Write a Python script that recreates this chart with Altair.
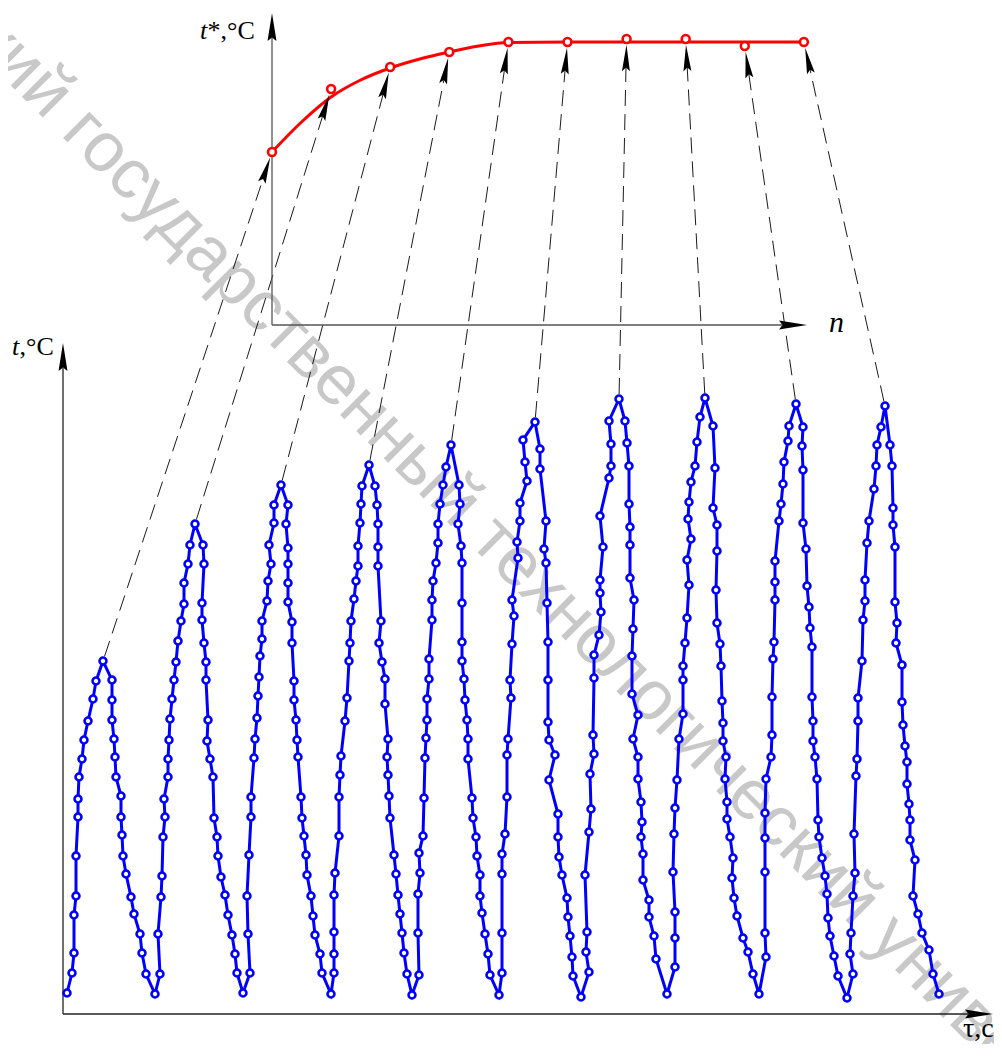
import altair as alt
import pandas as pd

# ---------------- data (chart units: tau in s, t in degC) ----------------
tau = [
    0.4, 0.9, 1.1, 1.1, 1.3, 1.3, 1.5, 1.5, 1.6, 1.9, 2.1, 2.5, 3.0, 3.3, 4.0,
    4.9, 4.9, 4.9, 5.1, 5.2, 5.3, 5.8, 5.8, 5.9, 6.0, 6.3, 6.8, 7.1, 7.7, 7.9, 8.3, 9.2,
    9.7, 9.5, 9.8, 9.9, 10.0, 10.2, 10.1, 10.5, 10.5, 10.6, 10.7, 10.9, 11.1, 11.3, 11.5, 11.8, 12.1, 12.1, 12.5, 12.7, 13.2,
    14.0, 14.1, 13.9, 13.9, 14.1, 14.3, 14.3, 14.5, 14.4, 14.7, 15.0, 15.1, 15.4, 15.5, 15.8, 16.2, 16.5, 16.9, 17.2, 17.4, 18.0,
    18.7, 18.5, 18.4, 18.6, 18.8, 18.8, 19.1, 19.2, 19.4, 19.5, 19.6, 19.7, 19.9, 19.9, 20.4, 20.5, 20.8, 20.6, 21.1, 21.1, 21.8,
    22.5, 22.3, 22.5, 22.5, 22.5, 22.5, 22.9, 22.9, 23.1, 23.1, 23.3, 23.4, 23.5, 23.8, 23.9, 24.1, 24.3, 24.4, 24.8, 25.0, 25.2, 25.7, 25.9, 26.8,
    27.1, 27.1, 27.1, 27.1, 27.2, 27.6, 27.6, 27.7, 27.8, 28.2, 28.4, 28.6, 28.7, 28.8, 29.1, 29.3, 29.5, 29.5, 29.7, 29.8, 29.9, 30.6,
    31.2, 31.4, 31.5, 31.5, 31.5, 31.8, 31.6, 31.9, 32.2, 32.2, 32.5, 32.4, 32.5, 32.6, 32.7, 33.1, 33.3, 33.5, 33.7, 33.9, 34.1, 34.4, 34.9,
    35.6, 35.5, 35.5, 35.7, 35.6, 36.0, 36.1, 36.2, 36.3, 36.4, 36.4, 36.6, 36.6, 36.9, 36.9, 37.0, 37.3, 37.5, 37.5, 37.7, 38.0, 38.3, 38.8,
    39.6, 39.7, 39.5, 39.8, 39.9, 39.9, 39.9, 39.9, 40.1, 40.2, 40.4, 40.5, 40.5, 40.9, 41.0, 41.3, 41.4, 41.7, 41.7, 41.9, 42.2, 42.5, 42.7, 43.6,
    43.9, 43.9, 43.9, 43.9, 44.2, 44.4, 44.4, 44.5, 44.8, 44.7, 44.9, 45.1, 44.9, 45.5, 45.4, 45.7, 45.7, 46.4, 46.2, 46.0, 47.2,
    47.7, 47.7, 48.3, 48.1, 48.3, 48.4, 48.5, 48.5, 48.5, 48.6, 49.2, 48.6, 49.5, 49.5, 49.6, 49.9, 50.4, 50.5, 50.7, 50.9, 51.0, 51.8,
    52.6, 52.3, 52.4, 52.2, 52.6, 52.8, 52.7, 53.1, 53.0, 53.1, 53.1, 53.6, 53.8, 53.7, 53.7, 54.0, 53.7, 54.6, 54.8, 54.8, 54.6, 55.6,
    56.2, 56.4, 56.6, 56.6, 56.7, 56.7, 56.7, 57.1, 57.0, 56.9, 56.9, 57.5, 57.0, 57.5, 57.5, 57.8, 57.9, 57.8, 58.0, 58.0, 58.6, 58.6, 59.1, 59.3, 60.4,
    61.2, 61.2, 61.2, 61.0, 61.1, 61.2, 61.4, 61.6, 62.0, 62.0, 62.0, 62.2, 62.4, 62.6, 62.4, 62.8, 62.5, 62.6, 62.8, 63.2, 63.4, 63.7, 64.2,
    65.0, 65.2, 65.0, 65.4, 65.4, 65.3, 65.4, 65.7, 65.8, 65.9, 66.0, 66.0, 66.3, 66.2, 66.4, 66.4, 66.7, 67.0, 66.9, 67.1, 67.4, 68.0, 68.5, 69.0, 69.6,
    70.3, 70.2, 70.2, 70.2, 70.2, 70.3, 70.8, 70.9, 70.9, 71.0, 71.1, 71.2, 71.2, 71.2, 71.6, 71.8, 72.0, 72.1, 72.5, 72.6, 73.3,
    74.0, 73.9, 74.0, 74.0, 74.3, 74.4, 74.6, 74.7, 74.9, 74.9, 75.0, 75.0, 75.2, 75.4, 75.5, 75.6, 75.9, 76.2, 76.4, 76.5, 76.7, 77.1, 77.5, 78.4,
    79.0, 78.7, 78.8, 79.0, 79.2, 79.1, 79.3, 79.4, 79.5, 79.5, 79.9, 80.0, 80.2, 80.2, 80.4, 80.6, 81.1, 81.3, 81.4, 81.8, 82.2,
    82.7, 82.9, 83.0, 83.0, 83.2, 83.2, 83.4, 83.3, 83.9, 83.9, 84.0, 84.2, 84.4, 84.4, 84.6, 84.7, 84.7, 85.2, 85.0, 85.5, 85.9, 86.6, 87.0, 87.6,
]
temp = [
    2.1, 4.1, 6.1, 9.9, 11.8, 15.8, 19.7, 21.5, 23.7, 25.5, 27.4, 29.3, 31.5, 33.3, 35.3,
    33.4, 31.4, 29.4, 27.5, 25.7, 23.7, 21.8, 19.7, 17.9, 15.8, 14.0, 11.7, 10.0, 8.0, 6.1, 4.0, 2.0,
    4.0, 8.0, 11.7, 13.8, 17.7, 19.7, 21.5, 23.7, 25.5, 27.4, 29.5, 31.5, 33.4, 35.2, 37.3, 39.3, 41.0, 43.1, 45.0, 46.9, 49.0,
    46.9, 45.0, 41.1, 39.4, 37.1, 35.2, 33.4, 29.4, 27.3, 25.5, 23.7, 19.6, 17.7, 15.8, 13.7, 11.9, 9.9, 7.9, 6.0, 4.1, 2.1,
    4.1, 8.0, 11.8, 15.9, 19.7, 21.7, 25.6, 27.5, 29.6, 31.8, 33.7, 35.8, 37.5, 39.3, 41.3, 43.3, 45.0, 46.9, 49.1, 50.9, 52.9,
    50.9, 49.0, 46.6, 45.0, 43.1, 41.2, 39.2, 37.1, 33.3, 31.4, 29.4, 27.4, 25.7, 21.7, 19.6, 17.8, 15.9, 13.9, 11.8, 9.8, 7.9, 6.0, 4.1, 2.0,
    4.1, 6.0, 8.2, 11.9, 14.1, 17.8, 21.7, 23.9, 25.8, 29.3, 31.6, 35.3, 37.1, 39.3, 41.5, 43.3, 44.8, 46.8, 49.1, 51.0, 52.8, 54.9,
    52.8, 50.9, 49.0, 46.7, 44.8, 39.3, 37.1, 35.2, 33.5, 31.0, 27.5, 25.7, 23.9, 21.8, 19.6, 15.9, 14.0, 11.9, 10.0, 8.1, 6.1, 4.0, 1.9,
    3.9, 8.1, 12.0, 14.1, 16.1, 17.8, 21.6, 25.6, 27.6, 29.4, 31.5, 33.5, 35.5, 39.4, 41.4, 43.3, 45.1, 47.1, 49.0, 51.0, 52.9, 54.7, 56.9,
    52.9, 51.0, 49.0, 46.8, 45.1, 41.1, 37.2, 35.3, 33.5, 31.4, 29.4, 27.5, 25.5, 21.6, 19.6, 17.7, 15.8, 13.9, 11.8, 10.1, 8.0, 6.0, 3.9, 1.9,
    4.1, 8.1, 14.0, 16.0, 18.0, 21.7, 25.9, 27.5, 31.6, 33.4, 37.0, 39.8, 41.4, 45.6, 47.2, 49.3, 51.1, 53.3, 55.2, 57.4, 59.2,
    56.5, 54.5, 49.3, 46.5, 45.1, 41.1, 37.2, 33.4, 29.2, 27.4, 25.9, 23.4, 20.0, 17.7, 15.7, 13.9, 11.6, 9.7, 7.8, 5.7, 3.8, 1.7,
    4.2, 6.2, 8.2, 13.9, 18.2, 20.5, 24.0, 26.0, 27.9, 33.6, 35.9, 37.9, 40.2, 42.1, 43.4, 46.7, 49.8, 53.6, 54.8, 57.0, 59.3, 61.5,
    59.3, 57.1, 54.8, 51.0, 48.7, 46.9, 43.6, 41.4, 38.5, 35.8, 32.0, 29.9, 27.5, 25.7, 23.5, 21.2, 19.2, 17.7, 16.0, 13.4, 11.4, 9.7, 7.8, 5.5, 2.0,
    4.7, 7.6, 10.2, 14.2, 18.0, 20.6, 23.4, 27.5, 30.0, 33.4, 34.8, 37.1, 39.6, 42.9, 45.4, 47.5, 49.5, 51.2, 53.2, 54.8, 57.2, 59.7, 61.6,
    58.8, 54.6, 50.6, 48.9, 46.3, 42.4, 39.1, 37.0, 34.8, 31.3, 29.1, 27.3, 25.7, 23.5, 21.2, 19.5, 17.7, 15.6, 13.6, 11.6, 9.8, 7.6, 6.2, 4.0, 2.0,
    5.7, 8.1, 14.2, 17.6, 20.1, 23.5, 25.7, 27.9, 31.7, 35.5, 37.2, 41.4, 43.2, 45.3, 49.3, 51.0, 53.0, 55.2, 57.3, 58.8, 61.0,
    58.7, 56.8, 54.4, 49.1, 46.5, 42.8, 40.7, 38.6, 36.7, 31.7, 29.3, 27.3, 25.7, 23.5, 19.4, 17.7, 15.6, 13.8, 12.0, 9.6, 7.8, 5.8, 3.8, 1.6,
    4.0, 6.0, 8.1, 11.8, 14.1, 18.0, 23.8, 25.5, 29.3, 31.6, 35.3, 39.4, 41.3, 43.4, 47.1, 49.3, 52.5, 54.8, 56.9, 58.7, 60.8,
    56.9, 54.8, 50.6, 48.9, 46.7, 41.2, 39.1, 37.1, 34.9, 31.2, 28.9, 26.8, 25.2, 23.0, 21.0, 19.4, 17.4, 15.4, 11.8, 10.0, 8.1, 6.4, 4.0, 2.0,
]

# upper inset: peak temperature t* versus cycle number n
n_cycle = [1, 2, 3, 4, 5, 6, 7, 8, 9, 10]
t_star = [17.3, 23.6, 25.8, 27.3, 28.3, 28.3, 28.6, 28.6, 27.9, 28.3]
fit_n = [1, 1.5, 2, 2.5, 3, 3.5, 4, 4.5, 5, 6, 7, 8, 9, 10]
fit_t = [17.3, 20.3, 22.8, 24.5, 25.7, 26.6, 27.3, 27.9, 28.25, 28.3, 28.3, 28.3, 28.3, 28.3]

watermark = "кий государственный технологический университет"

# ---------------- layout of the composite frame ----------------
XMAX, YMAX = 93.0, 100.4          # frame: 10 px per unit on both axes
N0, NS = 20.9, 5.91               # where the inset's n axis starts and step per cycle
T0 = 68.9                         # inset's t* axis origin inside the frame
BLUE_TOP = 67.1                   # top of main t axis (arrow tip)
INSET_TOP = 100.1
INSET_RIGHT = 74.4

xs = alt.Scale(domain=[0, XMAX], nice=False, zero=False)
ys = alt.Scale(domain=[0, YMAX], nice=False, zero=False)


def X(f):
    return alt.X(f, type="quantitative", scale=xs, axis=None)


def Y(f):
    return alt.Y(f, type="quantitative", scale=ys, axis=None)


series = pd.DataFrame({"i": range(len(tau)), "tau": tau, "t": temp})

peaks = [i for i in range(1, len(temp) - 1)
         if temp[i] > temp[i - 1] and temp[i] > temp[i + 1] and temp[i] > 30]

red = pd.DataFrame({"x": [N0 + (n - 1) * NS for n in n_cycle],
                    "y": [T0 + v for v in t_star]})
fit = pd.DataFrame({"x": [N0 + (n - 1) * NS for n in fit_n],
                    "y": [T0 + v for v in fit_t]})

conn = pd.DataFrame({
    "x1": [tau[i] for i in peaks],
    "y1": [temp[i] for i in peaks],
    "x2": list(red["x"])[:len(peaks)],
    "y2": list(red["y"])[:len(peaks)],
})

axes_df = pd.DataFrame({
    "x": [0, 0, N0, N0],
    "y": [0, 0, T0, T0],
    "x2": [0, XMAX - 2.5, N0, INSET_RIGHT - 2.5],
    "y2": [BLUE_TOP - 2.5, 0, INSET_TOP - 2.5, T0],
    "c": ["#222222", "#222222", "#555555", "#555555"],
})
axis_arrows = pd.DataFrame({
    "x": [0, XMAX - 1.4, N0, INSET_RIGHT - 1.4],
    "y": [BLUE_TOP - 1.4, 0, INSET_TOP - 1.4, T0],
    "a": [0, 90, 0, 90],
})

ARROW = "M0,-1L0.3,1L0,0.72L-0.3,1Z"

# watermark
wm = alt.Chart(pd.DataFrame({"x": [-7.9], "y": [98.5], "s": [watermark]})).mark_text(
    align="left", baseline="middle", angle=45, font="Liberation Sans",
    fontSize=70, color="#c8c8c8"
).encode(x=X("x"), y=Y("y"), text="s:N")

# connectors (dashed) and arrowheads
conn_base = alt.Chart(conn).transform_calculate(
    dx="datum.x2 - datum.x1", dy="datum.y2 - datum.y1"
).transform_calculate(
    L="sqrt(datum.dx*datum.dx + datum.dy*datum.dy)"
).transform_calculate(
    ux="datum.dx / datum.L", uy="datum.dy / datum.L"
).transform_calculate(
    sx="datum.x1 + 0.5*datum.ux", sy="datum.y1 + 0.5*datum.uy",
    ex="datum.x2 - 2.4*datum.ux", ey="datum.y2 - 2.4*datum.uy",
    cx="datum.x2 - 1.9*datum.ux", cy="datum.y2 - 1.9*datum.uy",
    ang="(atan2(datum.ux, datum.uy)*180/PI + 360) % 360",
)
dashes = conn_base.mark_rule(color="#1a1a1a", strokeWidth=1, strokeDash=[16, 8]).encode(
    x=X("sx"), y=Y("sy"), x2="ex:Q", y2="ey:Q")
heads = conn_base.mark_point(shape=ARROW, filled=True, size=700, color="black",
                             opacity=1, strokeWidth=0).encode(
    x=X("cx"), y=Y("cy"), angle=alt.Angle("ang:Q", scale=None))

# axes
axis_lines = alt.Chart(axes_df).mark_rule(strokeWidth=1.3).encode(
    x=X("x"), y=Y("y"), x2="x2:Q", y2="y2:Q", color=alt.Color("c:N", scale=None))
axis_heads = alt.Chart(axis_arrows).mark_point(
    shape="M0,-1L0.32,1L0,0.75L-0.32,1Z", filled=True, size=784, color="black",
    opacity=1, strokeWidth=0
).encode(x=X("x"), y=Y("y"), angle=alt.Angle("a:Q", scale=None))

# main oscillation
blue_line = alt.Chart(series).mark_line(color="#0000ff", strokeWidth=3).encode(
    x=X("tau"), y=Y("t"), order="i:Q")
blue_pts = alt.Chart(series).mark_point(shape="circle", filled=True, fill="white",
                                        stroke="#0000ff", strokeWidth=2.6, size=48,
                                        opacity=1).encode(x=X("tau"), y=Y("t"))

# inset curve
red_line = alt.Chart(fit).mark_line(color="#ff0000", strokeWidth=3,
                                    interpolate="monotone").encode(x=X("x"), y=Y("y"))
red_pts = alt.Chart(red).mark_point(shape="circle", filled=True, fill="white",
                                    stroke="#ff0000", strokeWidth=2.6, size=62,
                                    opacity=1).encode(x=X("x"), y=Y("y"))

# labels
lab = pd.DataFrame({
    "x": [13.7, 14.45, -5.1, -4.35, 76.6, 90.0],
    "y": [97.5, 97.5, 65.9, 65.9, 68.2, -2.3],
    "s": ["t", "*,°C", "t", ",°C", "n", "τ,c"],
    "st": ["italic", "normal", "italic", "normal", "italic", "normal"],
    "fs": [26, 26, 26, 26, 30, 28],
})
labels_it = alt.Chart(lab[lab.st == "italic"]).mark_text(
    align="left", baseline="alphabetic", font="Liberation Serif", fontStyle="italic",
    color="black").encode(x=X("x"), y=Y("y"), text="s:N",
                          size=alt.Size("fs:Q", scale=None))
labels_rm = alt.Chart(lab[lab.st == "normal"]).mark_text(
    align="left", baseline="alphabetic", font="Liberation Serif",
    color="black").encode(x=X("x"), y=Y("y"), text="s:N",
                          size=alt.Size("fs:Q", scale=None))

chart = alt.layer(
    wm, dashes, axis_lines, axis_heads, blue_line, blue_pts,
    red_line, red_pts, heads, labels_it, labels_rm
).properties(
    width=930, height=1004,
    autosize=alt.AutoSizeParams(type="none"),
    padding={"left": 55, "top": 2, "right": 1, "bottom": 30},
    background="white",
).configure_view(strokeWidth=0)

chart.save("out.html", embed_options={"renderer": "svg", "actions": False})
